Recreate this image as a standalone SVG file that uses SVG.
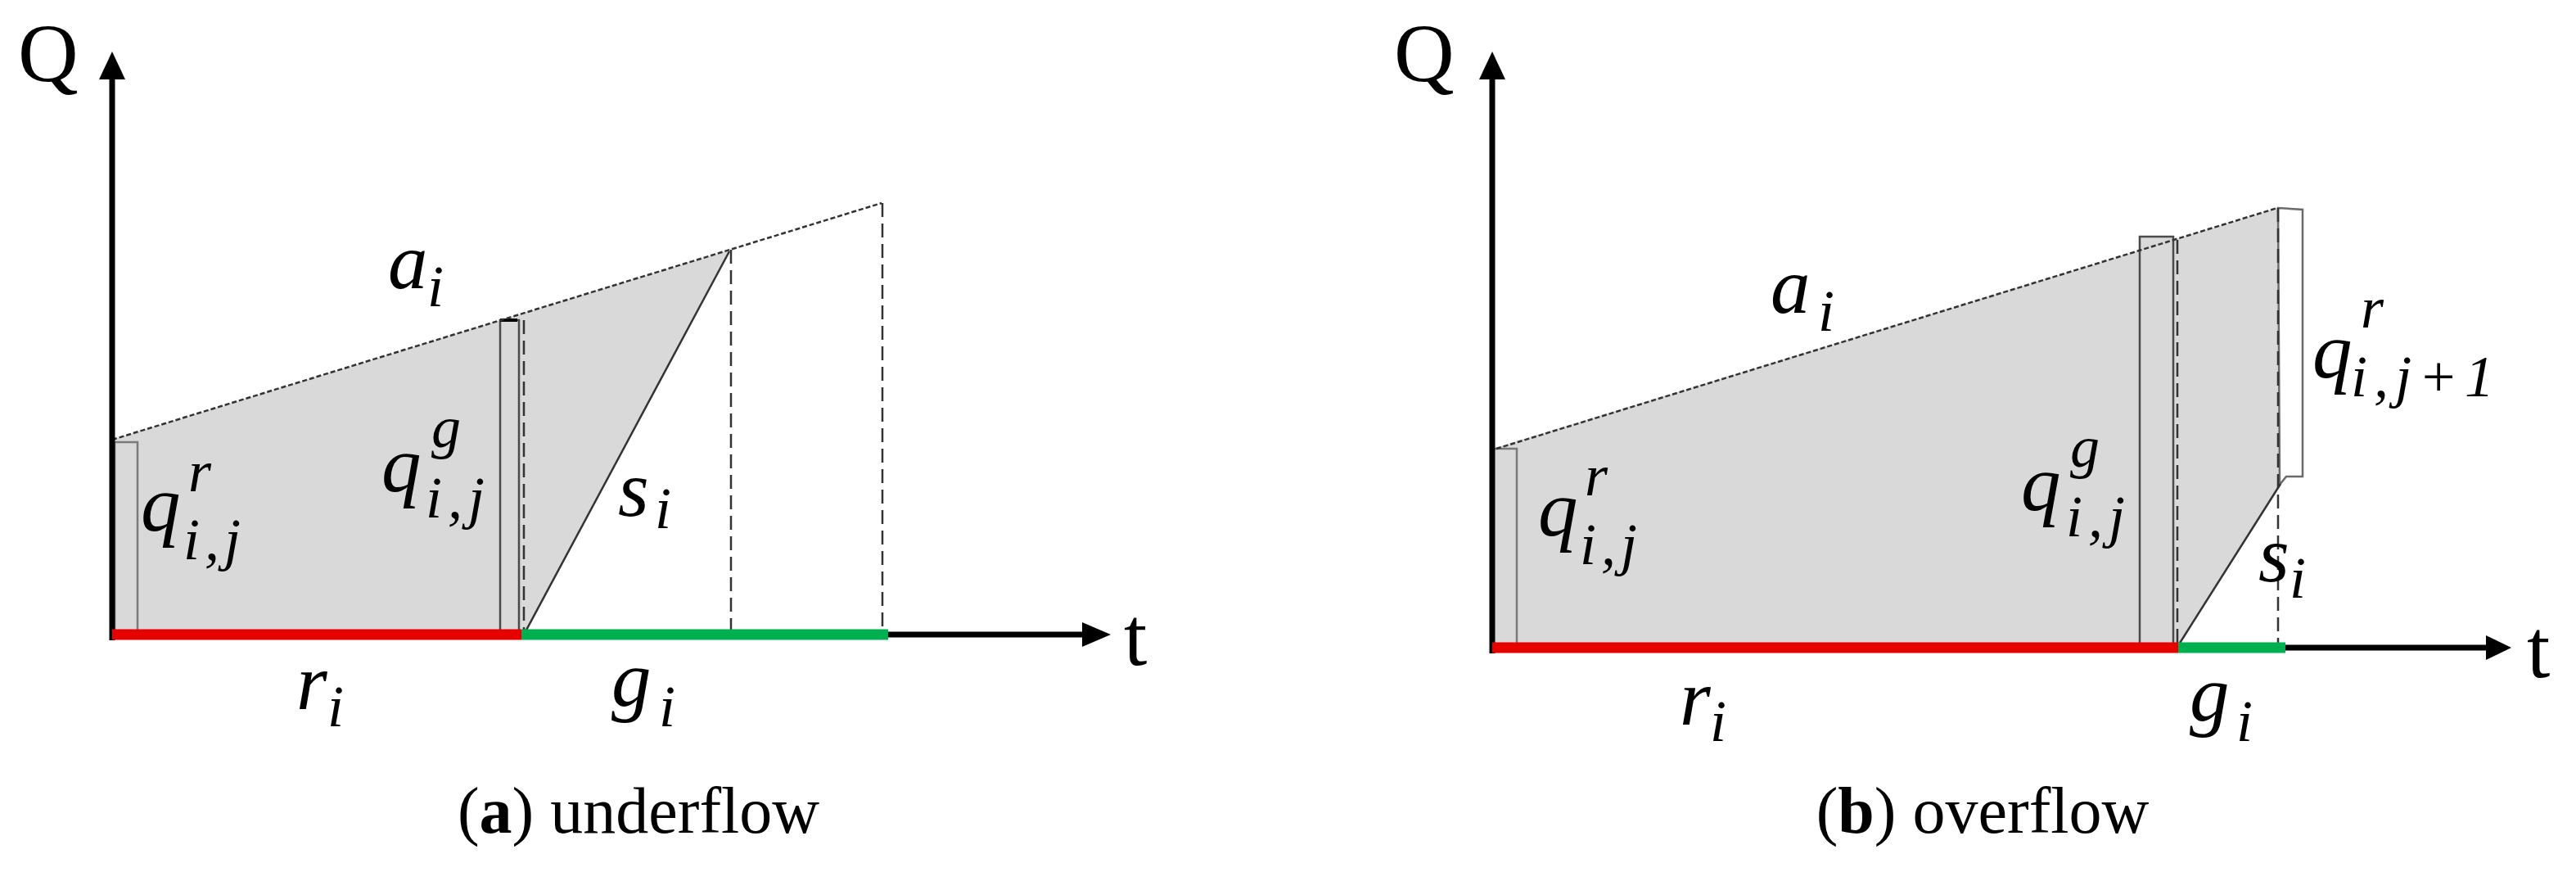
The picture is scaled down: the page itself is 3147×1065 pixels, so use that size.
<svg xmlns="http://www.w3.org/2000/svg" width="3147" height="1065" viewBox="0 0 3147 1065">
<style>
.fill{fill:#d9d9d9;stroke:none}
.col{fill:#d9d9d9;stroke:#7a7a7a;stroke-width:2.5}
.box{fill:#d9d9d9;stroke:#4a4a4a;stroke-width:2.5}
.wbox{fill:#ffffff;stroke:#6a6a6a;stroke-width:2.5}
.arr{stroke:#333;stroke-width:2.5;stroke-dasharray:6 3;fill:none}
.dash{stroke:#333;stroke-width:2.5;stroke-dasharray:17 8;fill:none}
.sl{stroke:#333;stroke-width:2.5;fill:none}
.axis{stroke:#000;stroke-width:7;fill:none}
.red{stroke:#e60000;stroke-width:13;fill:none}
.green{stroke:#00b050;stroke-width:13;fill:none}
.head{fill:#000}
.m{font-family:"Liberation Serif","Times New Roman",serif;font-style:italic;font-size:97px;fill:#000}
.s{font-family:"Liberation Serif","Times New Roman",serif;font-style:italic;font-size:72px;fill:#000}
.ax{font-family:"Liberation Serif","Times New Roman",serif;font-size:102px;fill:#000}
.cap{font-family:"Liberation Serif","Times New Roman",serif;font-size:80px;fill:#000;text-anchor:middle}
</style>

<!-- Panel (a) -->
<g id="panel-a-shapes">
  <polygon class="fill" points="137,775 137,537 891,305 640,775"/>
  <rect class="col" x="140" y="540" width="28" height="237"/>
  <rect class="box" x="611" y="391" width="23" height="381"/>
  <line x1="611" y1="391" x2="632" y2="391" stroke="#000" stroke-width="4"/>
</g>

<g id="connectors">
  <line class="arr" x1="137" y1="537" x2="1077" y2="248"/>
  <line class="sl" x1="640" y1="775" x2="891" y2="307"/>
  <line class="dash" x1="640" y1="391" x2="640" y2="775"/>
  <line class="dash" x1="893" y1="305" x2="893" y2="775"/>
  <line class="dash" x1="1078" y1="248" x2="1078" y2="775"/>
  <line class="axis" x1="137" y1="782" x2="137" y2="94"/>
  <polygon class="head" points="137,63 121,97 153,97"/>
  <line class="axis" x1="1080" y1="775" x2="1325" y2="775"/>
  <polygon class="head" points="1357,775 1322,760 1322,790"/>
  <line class="red" x1="137" y1="775" x2="637" y2="775"/>
  <line class="green" x1="637" y1="775" x2="1085" y2="775"/>
</g>

<g id="panel-b-shapes">
  <polygon class="fill" points="1823,790 1823,548 2782,254 2784,592 2660,790"/>
  <rect class="col" x="1823" y="548" width="30" height="244"/>
  <rect class="box" x="2614" y="289" width="41" height="500"/>
  <polygon class="wbox" points="2783,254 2813,256 2813,582 2793,582 2785,592"/>
</g>

<g id="connectors-b">
  <line class="arr" x1="1828" y1="548" x2="2782" y2="254"/>
  <line class="sl" x1="2660" y1="790" x2="2786" y2="591"/>
  <line class="dash" x1="2660" y1="293" x2="2660" y2="790"/>
  <line class="dash" x1="2783" y1="254" x2="2783" y2="790"/>
  <line class="axis" x1="1823" y1="798" x2="1823" y2="94"/>
  <polygon class="head" points="1823,63 1807,97 1839,97"/>
  <line class="axis" x1="2788" y1="791" x2="3040" y2="791"/>
  <polygon class="head" points="3068,791 3037,776 3037,806"/>
  <line class="red" x1="1823" y1="791" x2="2661" y2="791"/>
  <line class="green" x1="2661" y1="791" x2="2792" y2="791"/>
</g>

<!-- Labels panel a -->
<g id="a-Q"><text class="ax" x="22" y="100">Q</text></g>
<g id="a-t"><text class="ax" x="1373" y="812">t</text></g>
<g id="a-ai"><text class="m" x="474" y="352">a</text><text class="s" x="522" y="374">i</text></g>
<g id="a-qr"><text class="m" x="172" y="648">q</text><text class="s" x="230" y="600">r</text><text class="s" x="224" y="683" textLength="70" lengthAdjust="spacing">i,j</text></g>
<g id="a-qg"><text class="m" x="466" y="600">q</text><text class="s" x="527" y="546">g</text><text class="s" x="520" y="632" textLength="72" lengthAdjust="spacing">i,j</text></g>
<g id="a-si"><text class="m" x="755" y="630">s</text><text class="s" x="800" y="645">i</text></g>
<g id="a-ri"><text class="m" x="362" y="866">r</text><text class="s" x="400" y="887">i</text></g>
<g id="a-gi"><text class="m" x="747" y="862">g</text><text class="s" x="805" y="887">i</text></g>
<g id="a-cap"><text class="cap" x="780" y="1017">(<tspan font-weight="bold">a</tspan>) underflow</text></g>

<!-- Labels panel b -->
<g id="b-Q"><text class="ax" x="1703" y="100">Q</text></g>
<g id="b-t"><text class="ax" x="3087" y="827">t</text></g>
<g id="b-ai"><text class="m" x="2163" y="382">a</text><text class="s" x="2221" y="404">i</text></g>
<g id="b-qr"><text class="m" x="1879" y="654">q</text><text class="s" x="1936" y="605">r</text><text class="s" x="1930" y="689" textLength="70" lengthAdjust="spacing">i,j</text></g>
<g id="b-qg"><text class="m" x="2469" y="623">q</text><text class="s" x="2529" y="570">g</text><text class="s" x="2524" y="655" textLength="72" lengthAdjust="spacing">i,j</text></g>
<g id="b-qr1"><text class="m" x="2825" y="461">q</text><text class="s" x="2884" y="400">r</text><text class="s" x="2872" y="484" textLength="175" lengthAdjust="spacing">i,j+1</text></g>
<g id="b-si"><text class="m" x="2759" y="710">s</text><text class="s" x="2797" y="730">i</text></g>
<g id="b-ri"><text class="m" x="2052" y="885">r</text><text class="s" x="2089" y="905">i</text></g>
<g id="b-gi"><text class="m" x="2675" y="880">g</text><text class="s" x="2732" y="905">i</text></g>
<g id="b-cap"><text class="cap" x="2422" y="1017">(<tspan font-weight="bold">b</tspan>) overflow</text></g>
</svg>
